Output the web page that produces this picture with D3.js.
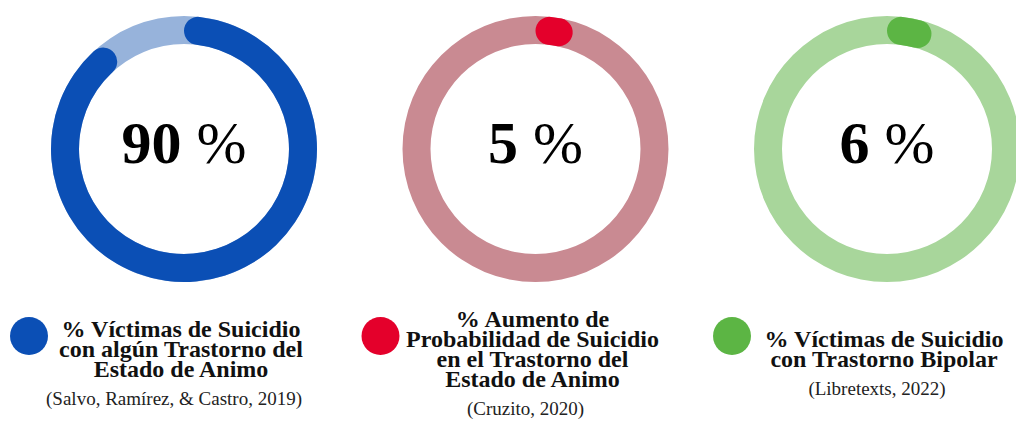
<!DOCTYPE html>
<html>
<head>
<meta charset="utf-8">
<script src="https://cdn.jsdelivr.net/npm/d3@7"></script>
<style>
    body { margin: 0; background: #fff; }
    svg { display: block; font-family: "Liberation Serif", "Times New Roman", serif; }
</style>
</head>
<body>
<svg id="svg"></svg>
<script>
const categories = ["trastorno", "probabilidad", "bipolar"];
const values = [90, 5, 6];
const legendLines = [
    ["% Víctimas de Suicidio", "con algún Trastorno del", "Estado de Animo"],
    ["% Aumento de", "Probabilidad de Suicidio", "en el Trastorno del", "Estado de Animo"],
    ["% Víctimas de Suicidio", "con Trastorno Bipolar"]
];
const citations = ["(Salvo, Ramírez, & Castro, 2019)", "(Cruzito, 2020)", "(Libretexts, 2022)"];

const mainColors = ["#0b4fb5", "#e4002b", "#5cb544"];
const trackColors = ["#97b3db", "#c98a92", "#a8d69b"];

const width = 1016, height = 426;

const svg = d3.select("svg")
    .attr("width", width)
    .attr("height", height);

const x = d3.scalePoint()
    .domain(categories)
    .range([184, 887]);

const angle = d3.scaleLinear()
    .domain([0, 100])
    .range([0, 2 * Math.PI]);

const arc = d3.arc()
    .innerRadius(105)
    .outerRadius(133)
    .cornerRadius(14);

const cy = 149;

const panels = svg.selectAll("g.panel")
    .data(categories)
    .join("g")
        .classed("panel", true);

// track ring
panels.append("path")
    .attr("transform", d => `translate(${x(d)},${cy})`)
    .attr("fill", (d, i) => trackColors[i])
    .attr("d", arc({ startAngle: 0, endAngle: 2 * Math.PI }));

// value arc
panels.append("path")
    .attr("transform", d => `translate(${x(d)},${cy})`)
    .attr("fill", (d, i) => mainColors[i])
    .attr("d", (d, i) => arc({ startAngle: 0, endAngle: angle(values[i]) }));

// big number
const big = panels.append("text")
    .attr("x", d => x(d))
    .attr("y", cy + 14)
    .attr("text-anchor", "middle")
    .attr("font-size", 60)
    .attr("fill", "#000");

big.append("tspan")
    .attr("font-weight", "bold")
    .text((d, i) => values[i]);

big.append("tspan")
    .text("\u00a0%");

// legend dot
panels.append("circle")
    .attr("cx", d => x(d) - 155)
    .attr("cy", 336)
    .attr("r", 19)
    .attr("fill", (d, i) => mainColors[i]);

// legend label
const lineH = 20;
const midY = 357;

panels.each(function (d, i) {
    const g = d3.select(this);
    const lines = legendLines[i];
    const first = midY - (lines.length - 1) * lineH / 2;

    g.append("text")
        .attr("text-anchor", "middle")
        .attr("font-size", 24)
        .attr("font-weight", "bold")
        .attr("fill", "#111")
        .selectAll("tspan")
        .data(lines)
        .join("tspan")
            .attr("x", x(d) - 3)
            .attr("y", (l, j) => first + j * lineH)
            .text(l => l);

    g.append("text")
        .attr("x", x(d) - 10)
        .attr("y", first + (lines.length - 1) * lineH + 28)
        .attr("text-anchor", "middle")
        .attr("font-size", 19)
        .attr("fill", "#222")
        .text(citations[i]);
});
</script>
</body>
</html>
